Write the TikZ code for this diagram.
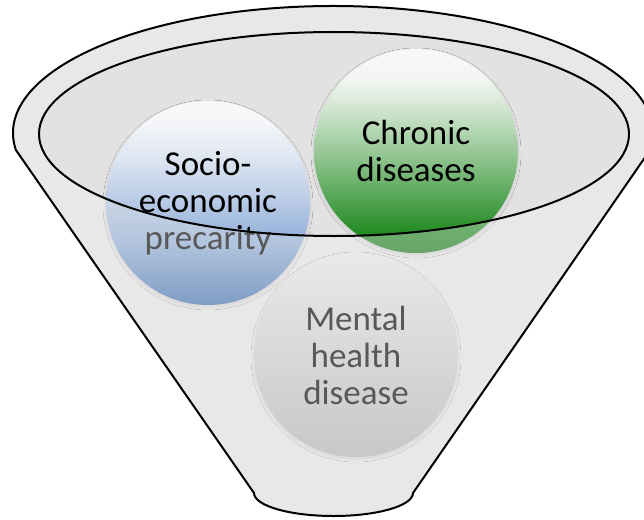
\documentclass[tikz,border=0pt]{standalone}
\usepackage{fontspec}
\setmainfont{Carlito}
\usetikzlibrary{shadows.blur}
\definecolor{bandgray}{HTML}{E8E8E8}
\definecolor{innergray}{HTML}{E2E2E2}
\definecolor{bA}{HTML}{3F70B0}
\definecolor{bB}{HTML}{8FAED8}
\definecolor{bC}{HTML}{B6C9E5}
\definecolor{bD}{HTML}{E2E9F3}
\definecolor{bE}{HTML}{F5F6F8}
\definecolor{bF}{HTML}{F8F8F8}
\definecolor{gA}{HTML}{1A7A1A}
\definecolor{gB}{HTML}{228B22}
\definecolor{gC}{HTML}{4FA34F}
\definecolor{gD}{HTML}{98C898}
\definecolor{gE}{HTML}{DCEBDA}
\definecolor{gF}{HTML}{F2F5F2}
\definecolor{gG}{HTML}{F8F8F8}
\definecolor{mA}{HTML}{B4B4B4}
\definecolor{mB}{HTML}{EAEAEA}
\pgfdeclareverticalshading{blueball}{100bp}{color(0bp)=(bA); color(25bp)=(bA); color(40bp)=(bB); color(50bp)=(bC); color(62.5bp)=(bD); color(70bp)=(bE); color(75bp)=(bF); color(100bp)=(bF)}
\pgfdeclareverticalshading{greenball}{100bp}{color(0bp)=(gA); color(25bp)=(gA); color(30bp)=(gB); color(37.5bp)=(gC); color(50bp)=(gD); color(62.5bp)=(gE); color(67.5bp)=(gF); color(75bp)=(gG); color(100bp)=(gG)}
\pgfdeclareverticalshading{grayball}{100bp}{color(0bp)=(mA); color(25bp)=(mA); color(75bp)=(mB); color(100bp)=(mB)}
\tikzset{
  ball/.style={circle, minimum size=204pt, inner sep=0pt, align=center,
    font=\fontsize{35}{37}\selectfont, text=black,
    blur shadow={shadow xshift=0pt, shadow yshift=-2pt, shadow blur radius=3pt, shadow opacity=12}},
  outline/.style={draw=black, line width=2pt},
}
\newcommand{\funnelpath}{(15.9,-150) arc[start angle=187.7, end angle=-7.7, x radius=320pt, y radius=127pt] -- (413,-493) arc[start angle=0, end angle=-180, x radius=79.5pt, y radius=23pt] -- cycle}
\begin{document}
\begin{tikzpicture}[x=1pt,y=1pt]
\clip (0,0) rectangle (644,-519);
\fill[white] (0,0) rectangle (644,-519);
% funnel background
\fill[bandgray] \funnelpath;
\fill[innergray] (334,-134) ellipse [x radius=295pt, y radius=102pt];
% circles
\node[ball, shading=blueball] (socio) at (208,-203) {Socio-\\economic\\precarity};
\node[ball, shading=greenball] (chronic) at (416,-151) {Chronic\\diseases};
\node[ball, shading=grayball] (mental) at (356,-355) {Mental\\health\\disease};
% translucent funnel body over the circles
\fill[bandgray, fill opacity=0.38, even odd rule] \funnelpath (334,-134) ellipse [x radius=295pt, y radius=102pt];
% outlines
\draw[outline] \funnelpath;
\draw[outline] (334,-134) ellipse [x radius=295pt, y radius=102pt];
\end{tikzpicture}
\end{document}
